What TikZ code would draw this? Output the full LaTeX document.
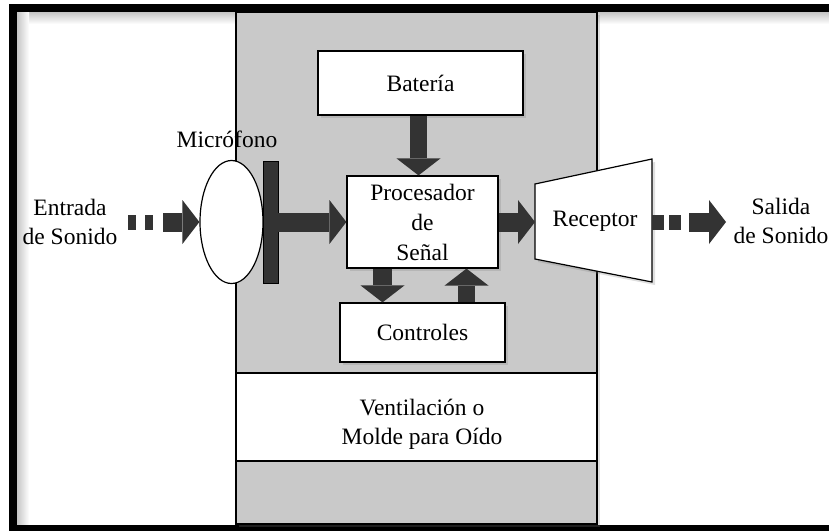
\documentclass[tikz,border=0pt]{standalone}
\usepackage{fontspec}
\setmainfont{Liberation Serif}
\usetikzlibrary{arrows.meta,shapes.geometric,shadows}
\definecolor{panelgray}{HTML}{C9C9C9}
\definecolor{arrowgray}{HTML}{333333}

\begin{document}
\begin{tikzpicture}[x=1pt,y=-1pt,
  font=\fontsize{23.5}{29}\selectfont,
  box/.style={draw, line width=1.2pt, fill=white, inner sep=0pt, align=center,
    drop shadow={shadow xshift=3pt, shadow yshift=-3pt, opacity=0.25}},
  bigarrow/.style={draw=arrowgray, line width=19pt,
    -{Triangle[width=44pt,length=17pt,line width=0pt]}},
  dots/.style={draw=arrowgray, line width=15pt},
  lbl/.style={align=center, inner sep=0pt}]

\useasboundingbox (0,0) rectangle (829,530);

% Outer frame with its inner shade
\shade[top color=gray!45, bottom color=white] (17,12.3) rectangle (829,24);
\shade[left color=gray!45, right color=white] (17,12.3) rectangle (29,526);
\draw[line width=8pt] (829,8.3) -| (13,530);
\draw[line width=8pt] (9,529) -- (829,529);

% Grey body and ear mould band
\draw[fill=panelgray, line width=1.2pt,
  drop shadow={shadow xshift=3pt, shadow yshift=-3pt, opacity=0.25}]
  (236,12.3) rectangle (597,524);
\draw[fill=white, line width=1.2pt] (236,373) rectangle (597,461);
\node[lbl] (vent) at (422,424) {Ventilación o\\Molde para Oído};

% Boxes
\node[box, minimum width=205pt, minimum height=64pt] (bat) at (420.5,83) {Batería};
\node[box, minimum width=151pt, minimum height=92pt,
  font=\fontsize{23.5}{30}\selectfont] (proc) at (422.5,222) {Procesador\\de\\Señal};
\node[box, minimum width=165pt, minimum height=59pt] (ctrl) at (422.5,332.5) {Controles};

% Receptor
\draw[fill=white, line width=1.2pt,
  drop shadow={shadow xshift=3pt, shadow yshift=-3pt, opacity=0.25}]
  (535,184) -- (652,159) -- (652,282) -- (535,259) -- cycle;
\coordinate (recW) at (535,222);
\coordinate (recE) at (652,222);
\node (rec) at (595,221) {Receptor};

% Microphone
\node[draw, ellipse, fill=white, line width=1.2pt, inner sep=0pt,
  minimum width=63pt, minimum height=123pt] (mic) at (231.5,222) {};
\node[draw, fill=arrowgray, inner sep=0pt,
  minimum width=15pt, minimum height=122pt] (bar) at (270.5,222) {};
\node[lbl] (miclbl) at (227,139) {Micrófono};

% Sound in
\node[lbl] (inlbl) at (70,222) {Entrada\\de Sonido};
\coordinate (inDots) at (128,222);
\coordinate (inS) at (163,222);
\draw[dots, dash pattern=on 8pt off 9pt] (inDots) -- ([xshift=-9pt]inS);
\draw[bigarrow] (inS) -- (mic.west);

% Signal path
\draw[bigarrow] (bar.east) -- (proc.west);
\draw[bigarrow] (proc.east) -- (recW);
\draw[bigarrow, line width=17pt] ([xshift=-2pt]bat.south) -- ([xshift=-2pt]bat.south |- proc.north);
\draw[bigarrow] ([xshift=-40pt]proc.south) -- ([xshift=-40pt]proc.south |- ctrl.north);
\draw[bigarrow, line width=17pt] ([xshift=44pt]ctrl.north) -- ([xshift=44pt]ctrl.north |- proc.south);

% Sound out
\coordinate (outS) at (689,222);
\coordinate (outE) at (726,222);
\draw[dots, dash pattern=on 12pt off 5pt] (recE) -- ([xshift=-7pt]outS);
\draw[bigarrow] (outS) -- (outE);
\node[lbl] (outlbl) at (781,221) {Salida\\de Sonido};

\end{tikzpicture}
\end{document}
